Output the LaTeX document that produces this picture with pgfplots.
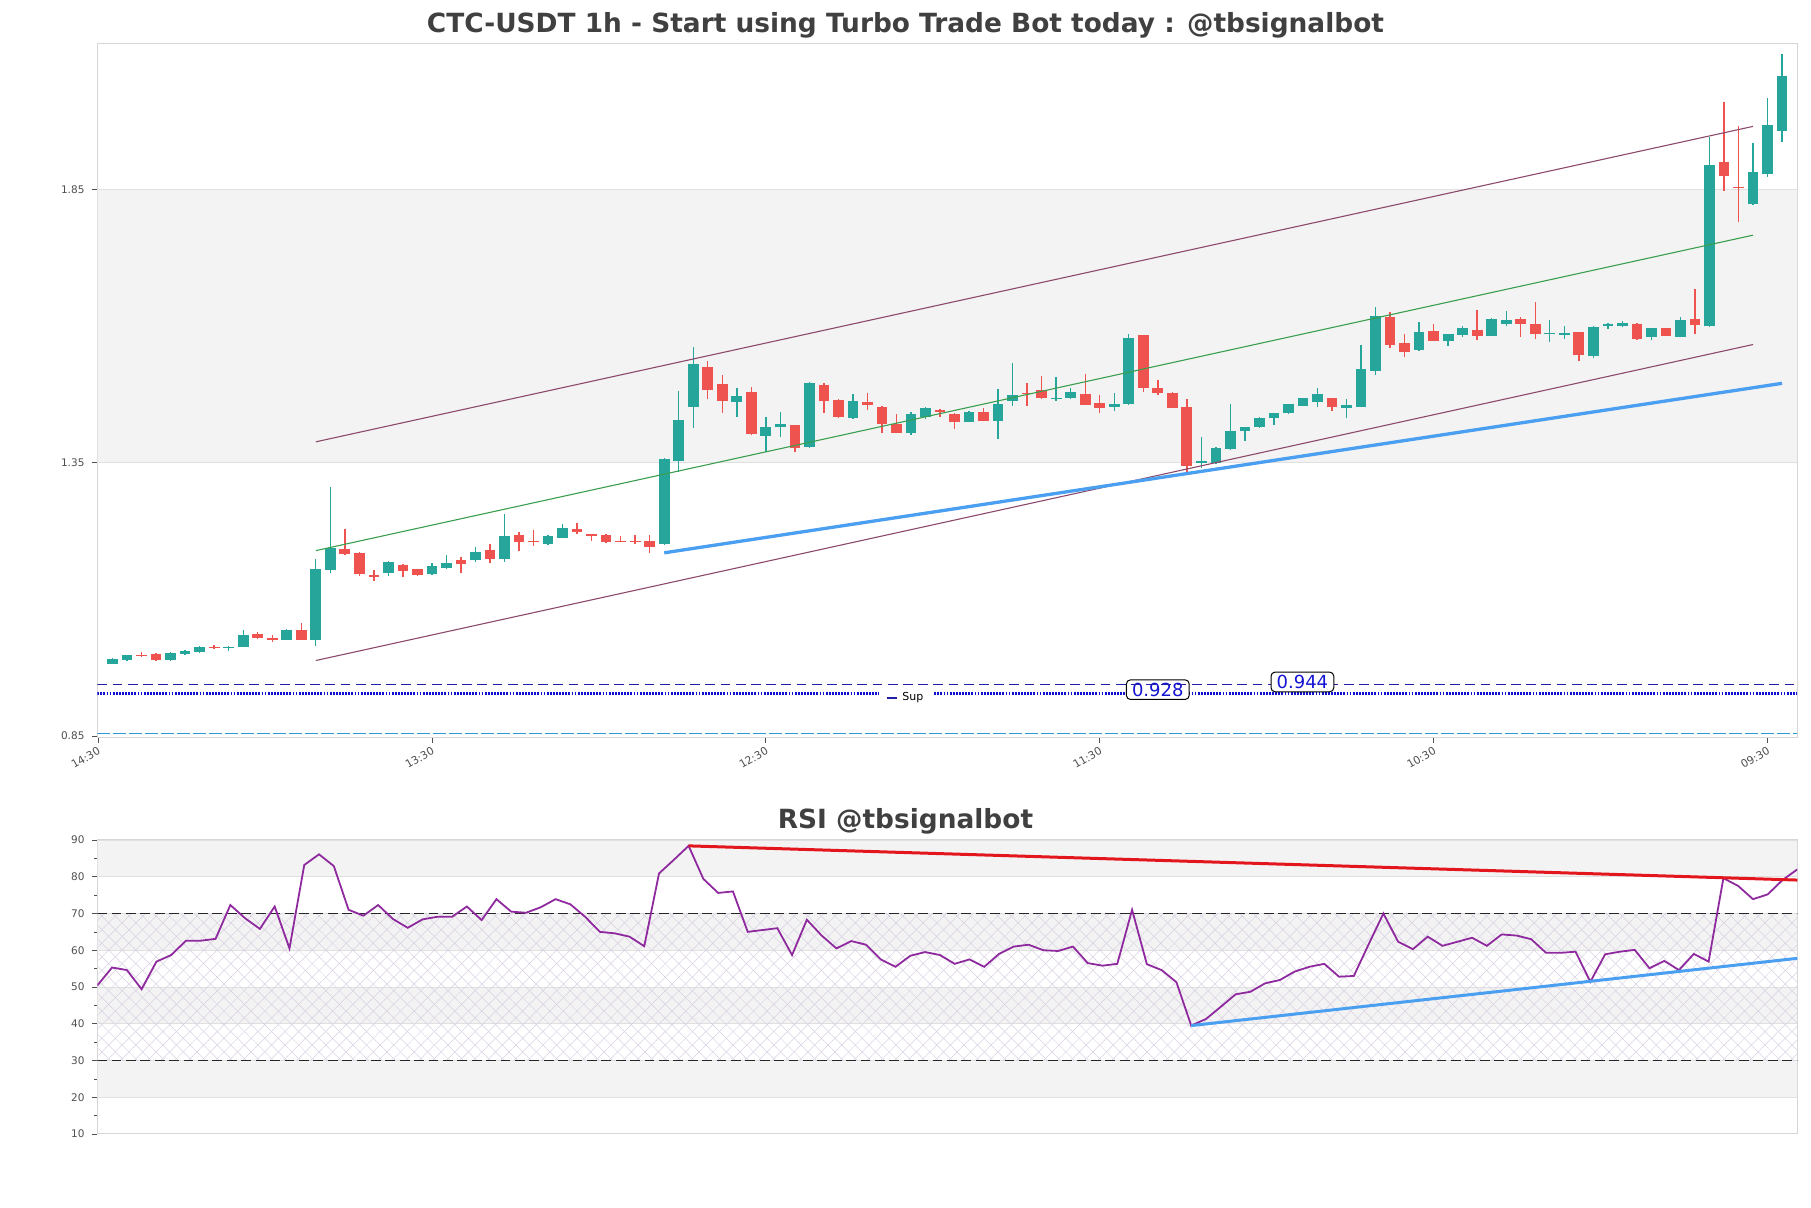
\documentclass[border=0pt]{standalone}
\usepackage{fontspec}
\setmainfont{DejaVu Sans}
\usepackage{pgfplots}
\pgfplotsset{compat=1.18}
\usepackage{pgfplotstable}
\usetikzlibrary{patterns.meta}

\definecolor{cgreen}{HTML}{26A69A}
\definecolor{cred}{HTML}{EF5350}
\definecolor{chan}{HTML}{8B4A6B}
\definecolor{midg}{HTML}{3A9E4F}
\definecolor{supblue}{HTML}{4A9FF0}
\definecolor{dblue}{HTML}{1F1FA8}
\definecolor{dotblue}{HTML}{1010D0}
\definecolor{boxblue}{HTML}{1414D2}
\definecolor{cyanl}{HTML}{2A9AD4}
\definecolor{band}{HTML}{F3F3F3}
\definecolor{frame}{HTML}{D6D6D6}
\definecolor{rsip}{HTML}{8E2A9E}
\definecolor{rsired}{HTML}{E3161D}
\definecolor{hatchc}{HTML}{D9D0E3}
\definecolor{titlec}{HTML}{404040}
\definecolor{tickc}{HTML}{505050}

% candles: x open high low close
\pgfplotstableread{
x o h l c
0 0.982 0.992 0.981 0.991
1 0.989 0.999 0.988 0.998
4 0.989 1.003 0.988 1.002
5 1.000 1.007 0.999 1.006
6 1.004 1.015 1.002 1.013
8 1.010 1.014 1.006 1.013
9 1.013 1.044 1.012 1.035
12 1.026 1.045 1.025 1.044
14 1.026 1.174 1.015 1.155
15 1.154 1.306 1.148 1.193
19 1.149 1.170 1.143 1.169
22 1.146 1.166 1.144 1.161
23 1.157 1.181 1.155 1.166
25 1.171 1.196 1.169 1.187
27 1.174 1.256 1.169 1.216
30 1.201 1.218 1.199 1.215
31 1.213 1.237 1.212 1.231
38 1.201 1.358 1.200 1.357
39 1.353 1.481 1.333 1.428
40 1.452 1.562 1.414 1.530
43 1.460 1.486 1.434 1.472
45 1.399 1.433 1.369 1.415
46 1.416 1.443 1.396 1.420
48 1.379 1.498 1.377 1.496
51 1.432 1.475 1.430 1.463
55 1.404 1.443 1.401 1.439
56 1.433 1.451 1.429 1.450
59 1.425 1.444 1.424 1.443
61 1.427 1.485 1.393 1.457
62 1.462 1.533 1.454 1.473
65 1.467 1.506 1.463 1.469
66 1.468 1.486 1.467 1.479
69 1.452 1.477 1.445 1.457
70 1.458 1.585 1.456 1.578
75 1.350 1.397 1.340 1.353
76 1.349 1.378 1.347 1.376
77 1.374 1.457 1.373 1.408
78 1.407 1.416 1.390 1.415
79 1.415 1.434 1.414 1.431
80 1.431 1.441 1.419 1.440
81 1.440 1.458 1.439 1.457
82 1.454 1.469 1.453 1.468
83 1.460 1.486 1.451 1.475
85 1.449 1.466 1.431 1.455
86 1.452 1.565 1.451 1.521
87 1.518 1.634 1.511 1.618
90 1.556 1.608 1.554 1.588
92 1.573 1.586 1.564 1.585
93 1.583 1.600 1.579 1.596
95 1.582 1.614 1.581 1.613
96 1.604 1.627 1.599 1.610
99 1.585 1.611 1.571 1.587
100 1.584 1.600 1.577 1.587
102 1.545 1.599 1.541 1.598
103 1.599 1.605 1.595 1.604
104 1.599 1.609 1.598 1.606
106 1.579 1.597 1.574 1.596
108 1.580 1.616 1.579 1.611
110 1.599 1.945 1.598 1.894
113 1.823 1.934 1.822 1.881
114 1.878 2.016 1.872 1.968
115 1.957 2.098 1.937 2.057
}\greentab

\pgfplotstableread{
x o h l c
2 0.999 1.004 0.995 0.997
3 1.000 1.002 0.988 0.989
7 1.0136 1.016 1.009 1.0116
10 1.037 1.040 1.027 1.029
11 1.029 1.035 1.022 1.026
13 1.044 1.057 1.025 1.026
16 1.192 1.229 1.181 1.183
17 1.185 1.186 1.143 1.146
18 1.144 1.154 1.134 1.141
20 1.163 1.164 1.140 1.152
21 1.155 1.156 1.143 1.144
24 1.171 1.177 1.149 1.165
26 1.190 1.201 1.167 1.174
28 1.218 1.223 1.189 1.204
29 1.207 1.227 1.198 1.204
32 1.229 1.240 1.219 1.224
33 1.219 1.220 1.207 1.216
34 1.218 1.219 1.203 1.205
35 1.207 1.216 1.204 1.205
36 1.207 1.218 1.202 1.204
37 1.207 1.218 1.184 1.196
41 1.525 1.535 1.466 1.483
42 1.494 1.510 1.441 1.462
44 1.479 1.488 1.400 1.402
47 1.418 1.419 1.370 1.376
49 1.492 1.496 1.440 1.463
50 1.465 1.466 1.431 1.433
52 1.460 1.478 1.447 1.456
53 1.452 1.453 1.405 1.421
54 1.421 1.439 1.404 1.405
57 1.447 1.448 1.434 1.443
58 1.439 1.440 1.411 1.425
60 1.443 1.449 1.426 1.427
63 1.478 1.495 1.454 1.476
64 1.483 1.508 1.466 1.468
67 1.475 1.512 1.455 1.456
68 1.459 1.474 1.441 1.450
71 1.583 1.584 1.480 1.487
72 1.486 1.501 1.474 1.478
73 1.478 1.479 1.449 1.450
74 1.451 1.467 1.333 1.343
84 1.468 1.469 1.445 1.451
88 1.616 1.626 1.560 1.566
89 1.568 1.585 1.544 1.553
91 1.591 1.603 1.572 1.573
94 1.592 1.629 1.574 1.582
97 1.613 1.617 1.580 1.604
98 1.604 1.643 1.576 1.585
101 1.588 1.589 1.535 1.547
105 1.604 1.605 1.574 1.577
107 1.596 1.597 1.581 1.582
109 1.613 1.667 1.585 1.601
111 1.899 2.010 1.847 1.875
112 1.855 1.966 1.791 1.854
}\redtab

\pgfplotstableread{
k rsi
0 50.4
1 55.3
2 54.6
3 49.4
4 56.9
5 58.7
6 62.6
7 62.6
8 63.1
9 72.3
10 68.7
11 65.8
12 71.9
13 60.5
14 83.2
15 86.1
16 82.9
17 71.0
18 69.4
19 72.3
20 68.5
21 66.1
22 68.4
23 69.1
24 69.1
25 71.9
26 68.2
27 73.9
28 70.5
29 70.2
30 71.7
31 73.9
32 72.5
33 69.1
34 65.0
35 64.6
36 63.7
37 61.1
38 80.9
39 84.6
40 88.4
41 79.4
42 75.6
43 76.0
44 65.0
45 65.5
46 66.0
47 58.7
48 68.3
49 64.0
50 60.5
51 62.5
52 61.5
53 57.5
54 55.5
55 58.5
56 59.5
57 58.7
58 56.3
59 57.5
60 55.5
61 59.0
62 61.0
63 61.5
64 60.0
65 59.8
66 61.0
67 56.5
68 55.8
69 56.3
70 71.0
71 56.2
72 54.6
73 51.3
74 39.5
75 41.3
76 44.6
77 48.0
78 48.7
79 51.0
80 51.9
81 54.2
82 55.5
83 56.3
84 52.8
85 53.0
86 61.6
87 70.0
88 62.3
89 60.3
90 63.7
91 61.2
92 62.3
93 63.4
94 61.2
95 64.3
96 64.0
97 63.0
98 59.3
99 59.3
100 59.6
101 51.4
102 58.9
103 59.6
104 60.1
105 55.1
106 57.1
107 54.6
108 59.0
109 56.9
110 79.6
111 77.5
112 73.9
113 75.2
114 79.1
115 82.0
}\rsitab

\begin{document}
\begin{tikzpicture}
\path (0pt,0pt) rectangle (905.5pt,604pt);

\node[anchor=base, font=\fontsize{13.2}{15}\selectfont\bfseries, text=titlec] at (452.75pt,587.65pt) {CTC-USDT 1h - Start using Turbo Trade Bot today : @tbsignalbot};
\node[anchor=base, font=\fontsize{13.2}{15}\selectfont\bfseries, text=titlec] at (452.75pt,189.85pt) {RSI @tbsignalbot};

% ---------------- main chart ----------------
\begin{axis}[
  at={(48.65pt,235.35pt)}, anchor=south west,
  width=850pt, height=347pt, scale only axis,
  xmin=-1.05, xmax=116.05, ymin=0.8476, ymax=2.117,
  axis line style={draw=frame, line width=0.5pt},
  tick pos=left, tick align=outside,
  major tick length=2.9pt,
  tick style={draw=tickc, line width=0.35pt},
  xtick={-1,22,45,68,91,114},
  xticklabels={14:30,13:30,12:30,11:30,10:30,09:30},
  xticklabel style={rotate=30, anchor=north east, font=\fontsize{5.4}{6}\selectfont, text=tickc, inner sep=1pt},
  ytick={0.85,1.35,1.85}, yticklabels={0.85,1.35,1.85},
  yticklabel style={font=\fontsize{5.25}{6}\selectfont, text=tickc},
  legend style={at={(0.476,0.057)}, anchor=center, draw=none, fill=white,
    font=\fontsize{5.5}{6.5}\selectfont, inner xsep=3.5pt, inner ysep=0.3pt,
    nodes={inner ysep=2.2pt}},
]
\addplot[fill=band, draw=black!12, line width=0.3pt, forget plot]
  coordinates {(-1.05,1.35) (116.05,1.35) (116.05,1.85) (-1.05,1.85)} -- cycle;

\addplot[dotblue, line width=1.35pt, dash pattern=on 0.9pt off 0.65pt,
  legend image code/.code={\draw[dblue, solid, line width=1.1pt] (0pt,0pt) -- (5.35pt,0pt);}]
  coordinates {(-1.05,0.928) (116.05,0.928)};
\addlegendentry{Sup}
\addplot[cyanl, line width=0.55pt, dash pattern=on 6.5pt off 1.5pt, forget plot]
  coordinates {(-1.05,0.855) (116.05,0.855)};

% wicks
\addplot[cgreen, line width=0.7pt, quiver={u=0, v=\thisrow{h}-\thisrow{l}}, forget plot]
  table[x=x, y=l] {\greentab};
\addplot[cred, line width=0.7pt, quiver={u=0, v=\thisrow{h}-\thisrow{l}}, forget plot]
  table[x=x, y=l] {\redtab};
% bodies
\addplot[cgreen, line width=5.35pt, quiver={u=0, v=\thisrow{c}-\thisrow{o}}, forget plot]
  table[x=x, y=o] {\greentab};
\addplot[cred, line width=5.35pt, quiver={u=0, v=\thisrow{c}-\thisrow{o}}, forget plot]
  table[x=x, y=o] {\redtab};

% channel
\addplot[chan, line width=0.55pt, forget plot] coordinates {(14,1.388) (113,1.965)};
\addplot[midg, line width=0.55pt, forget plot] coordinates {(14,1.189) (113,1.766)};
\addplot[chan, line width=0.55pt, forget plot] coordinates {(14,0.988) (113,1.566)};
\addplot[supblue, line width=1.65pt, forget plot] coordinates {(38,1.185) (115,1.495)};

\node[draw=black, line width=0.5pt, rounded corners=2pt, fill=white, text=boxblue,
  font=\fontsize{9}{10}\selectfont, inner xsep=2.8pt, inner ysep=1.5pt]
  at (axis cs:72,0.9347) {0.928};
\end{axis}

% second layer on the same axes: line above the legend box, and the 0.944 label
\begin{axis}[
  at={(48.65pt,235.35pt)}, anchor=south west,
  width=850pt, height=347pt, scale only axis,
  xmin=-1.05, xmax=116.05, ymin=0.8476, ymax=2.117,
  hide axis,
]
\addplot[dblue, line width=0.65pt, dash pattern=on 4.9pt off 2.7pt]
  coordinates {(-1.05,0.944) (116.05,0.944)};
\node[draw=black, line width=0.5pt, rounded corners=2pt, fill=white, text=boxblue,
  font=\fontsize{9}{10}\selectfont, inner xsep=2.8pt, inner ysep=1.5pt]
  at (axis cs:81.96,0.9488) {0.944};
\end{axis}

% ---------------- RSI ----------------
\begin{axis}[
  at={(48.65pt,37pt)}, anchor=south west,
  width=850pt, height=147pt, scale only axis,
  xmin=0, xmax=115, ymin=10, ymax=90,
  axis line style={draw=frame, line width=0.5pt},
  tick pos=left, tick align=outside,
  major tick length=2.9pt, minor tick length=1.5pt,
  tick style={draw=tickc, line width=0.35pt},
  xtick=\empty,
  ytick={10,20,30,40,50,60,70,80,90},
  yticklabels={10,20,30,40,50,60,70,80,90},
  minor ytick={15,25,35,45,55,65,75,85},
  yticklabel style={font=\fontsize{5.25}{6}\selectfont, text=tickc},
]
\addplot[fill=band, draw=black!12, line width=0.3pt] coordinates {(0,80) (115,80) (115,90) (0,90)} -- cycle;
\addplot[fill=band, draw=black!12, line width=0.3pt] coordinates {(0,60) (115,60) (115,70) (0,70)} -- cycle;
\addplot[fill=band, draw=black!12, line width=0.3pt] coordinates {(0,40) (115,40) (115,50) (0,50)} -- cycle;
\addplot[fill=band, draw=black!12, line width=0.3pt] coordinates {(0,20) (115,20) (115,30) (0,30)} -- cycle;
\addplot[draw=none, pattern={Lines[angle=45, distance=4.8pt, line width=0.25pt]}, pattern color=hatchc]
  coordinates {(0,30) (115,30) (115,70) (0,70)} -- cycle;
\addplot[draw=none, pattern={Lines[angle=-45, distance=4.8pt, line width=0.25pt]}, pattern color=hatchc]
  coordinates {(0,30) (115,30) (115,70) (0,70)} -- cycle;
\addplot[black!85, line width=0.6pt, dash pattern=on 4.9pt off 2.3pt] coordinates {(0,70) (115,70)};
\addplot[black!85, line width=0.6pt, dash pattern=on 4.9pt off 2.3pt] coordinates {(0,30) (115,30)};

\addplot[rsip, line width=0.9pt] table[x=k, y=rsi] {\rsitab};
\addplot[rsired, line width=1.5pt] coordinates {(40,88.4) (115,79.1)};
\addplot[supblue, line width=1.5pt] coordinates {(74,39.5) (115,57.8)};
\end{axis}
\end{tikzpicture}
\end{document}
